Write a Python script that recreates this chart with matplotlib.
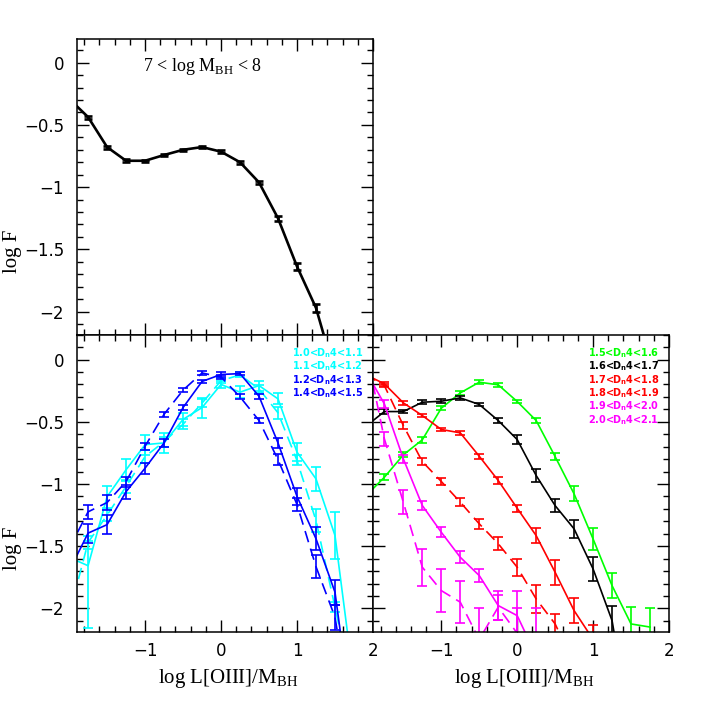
import numpy as np
import matplotlib
matplotlib.use("Agg")
import matplotlib.pyplot as plt
from matplotlib.ticker import MultipleLocator, FuncFormatter

# ---------------- data ----------------
x = [-2.0, -1.75, -1.5, -1.25, -1.0, -0.75, -0.5, -0.25, 0.0, 0.25,
     0.5, 0.75, 1.0, 1.25, 1.5, 1.75]

# top panel: 7 < log M_BH < 8
top_y = [-0.29, -0.437, -0.678, -0.788, -0.788, -0.742, -0.70, -0.678, -0.715,
         -0.80, -0.962, -1.25, -1.637, -1.97, -2.5, -3.0]
top_err = [0, 0.012, 0.012, 0.012, 0.01, 0.01, 0.01, 0.01, 0.01, 0.012,
           0.015, 0.02, 0.025, 0.035, 0.05, 0.08]

# bottom-left panel
c1_y = [-1.59, -1.657, -1.103, -0.886, -0.684, -0.670, -0.481, -0.386, -0.20,
        -0.262, -0.209, -0.316, -0.744, -0.959, -1.414, -2.6]
c1_lo = [0, 0.5, 0.09, 0.09, 0.08, 0.08, 0.055, 0.08, 0.03, 0.05, 0.04, 0.045,
         0.075, 0.095, 0.19, 0.4]
c1_hi = [0, 0.2, 0.09, 0.09, 0.08, 0.08, 0.055, 0.08, 0.03, 0.05, 0.04, 0.045,
         0.075, 0.095, 0.19, 0.3]

c2_y = [-2.05, -1.47, -1.25, -1.02, -0.78, -0.66, -0.52, -0.35, -0.17, -0.123,
        -0.236, -0.428, -0.811, -1.294, -1.99, -2.7]
c2_err = [0, 0.05, 0.05, 0.05, 0.05, 0.04, 0.04, 0.03, 0.02, 0.02, 0.03, 0.047,
          0.04, 0.09, 0.04, 0.2]

b1_y = [-1.70, -1.395, -1.327, -1.062, -0.873, -0.670, -0.386, -0.176, -0.12,
        -0.113, -0.295, -0.67, -1.10, -1.44, -1.87, -3.0]
b1_err = [0, 0.077, 0.075, 0.055, 0.045, 0.03, 0.02, 0.015, 0.02, 0.015, 0.02,
          0.04, 0.067, 0.094, 0.1, 0.1]

b2_y = [-1.52, -1.224, -1.149, -0.981, -0.697, -0.44, -0.246, -0.108, -0.14,
        -0.30, -0.49, -0.805, -1.165, -1.665, -2.07, -3.0]
b2_err = [0, 0.055, 0.06, 0.04, 0.03, 0.02, 0.015, 0.015, 0.015, 0.02, 0.02,
          0.045, 0.05, 0.094, 0.1, 0.1]

# bottom-right panel
g_y = [-1.10, -0.946, -0.766, -0.645, -0.391, -0.268, -0.182, -0.203, -0.337,
       -0.49, -0.78, -1.08, -1.442, -1.817, -2.125, -2.15]
g_err = [0, 0.025, 0.02, 0.025, 0.015, 0.015, 0.015, 0.015, 0.015, 0.02, 0.03,
         0.06, 0.085, 0.1, 0.14, 0.15]

k_y = [-0.54, -0.418, -0.418, -0.343, -0.335, -0.308, -0.361, -0.49, -0.643,
       -0.932, -1.174, -1.361, -1.683, -2.098, -3.0, -3.2]
k_err = [0, 0.02, 0.015, 0.015, 0.015, 0.015, 0.015, 0.02, 0.035, 0.05, 0.05,
         0.07, 0.1, 0.12, 0.15, 0.15]

r1_y = [-0.12, -0.195, -0.348, -0.45, -0.562, -0.589, -0.777, -0.972, -1.195,
        -1.415, -1.71, -2.018, -2.25, -2.8, -3.2, -3.5]
r1_err = [0, 0.015, 0.015, 0.015, 0.015, 0.015, 0.02, 0.025, 0.03, 0.06, 0.1,
          0.1, 0.12, 0.15, 0.2, 0.2]

r2_y = [-0.12, -0.209, -0.53, -0.82, -0.98, -1.146, -1.32, -1.48, -1.669,
        -1.924, -2.125, -2.45, -2.8, -3.2, -3.5, -3.8]
r2_err = [0, 0.015, 0.025, 0.025, 0.03, 0.035, 0.04, 0.05, 0.067, 0.11, 0.08,
          0.12, 0.15, 0.2, 0.2, 0.2]

m1_y = [-0.09, -0.356, -0.798, -1.173, -1.388, -1.589, -1.736, -1.977, -2.058,
        -2.38, -2.8, -3.2, -3.5, -3.8, -4.0, -4.2]
m1_err = [0, 0.03, 0.03, 0.035, 0.04, 0.05, 0.05, 0.12, 0.2, 0.15, 0.2, 0.2,
          0.2, 0.2, 0.2, 0.2]

m2_y = [0.10, -0.637, -1.147, -1.669, -1.857, -1.95, -2.25, -1.99, -2.2,
        -2.25, -2.8, -3.2, -3.5, -3.8, -4.0, -4.2]
m2_err = [0, 0.055, 0.095, 0.15, 0.17, 0.17, 0.25, 0.1, 0.2, 0.25, 0.2, 0.2,
          0.2, 0.2, 0.2, 0.2]

left_labels = ["1.0<D$_\\mathregular{n}$4<1.1", "1.1<D$_\\mathregular{n}$4<1.2",
               "1.2<D$_\\mathregular{n}$4<1.3", "1.4<D$_\\mathregular{n}$4<1.5"]
left_colors = ["#00FFFF", "#00FFFF", "#0000FF", "#0000FF"]
right_labels = ["1.5<D$_\\mathregular{n}$4<1.6", "1.6<D$_\\mathregular{n}$4<1.7",
                "1.7<D$_\\mathregular{n}$4<1.8", "1.8<D$_\\mathregular{n}$4<1.9",
                "1.9<D$_\\mathregular{n}$4<2.0", "2.0<D$_\\mathregular{n}$4<2.1"]
right_colors = ["#00FF00", "#000000", "#FF0000", "#FF0000", "#FF00FF", "#FF00FF"]

top_text = "7 < log M$_\\mathregular{BH}$ < 8"
xlabel = "log L[OIII]/M$_\\mathregular{BH}$"
ylabel = "log F"

# ---------------- figure ----------------
fig = plt.figure(figsize=(7.08, 7.08), dpi=100)
L, M, R = 0.1083, 0.5268, 0.9449
B, Mid, T = 0.1073, 0.5273, 0.9449
ax_t = fig.add_axes([L, Mid, M - L, T - Mid])
ax_l = fig.add_axes([L, B, M - L, Mid - B])
ax_r = fig.add_axes([M, B, R - M, Mid - B])

tickfont = "DejaVu Sans"
fmt = FuncFormatter(lambda v, p: ("%g" % v).replace("-", "\u2212"))

for ax in (ax_t, ax_l, ax_r):
    ax.set_xlim(-1.9, 2.0)
    ax.xaxis.set_major_locator(MultipleLocator(1.0))
    ax.xaxis.set_minor_locator(MultipleLocator(0.2))
    ax.yaxis.set_major_locator(MultipleLocator(0.5))
    ax.yaxis.set_minor_locator(MultipleLocator(0.1))
    ax.tick_params(which="both", direction="in", top=True, right=True,
                   width=1.0, labelsize=12)
    ax.tick_params(which="major", length=8.5)
    ax.tick_params(which="minor", length=4)
    ax.tick_params(axis="x", pad=7)
    ax.tick_params(axis="y", pad=9)
    for s in ax.spines.values():
        s.set_linewidth(1.1)
    ax.xaxis.set_major_formatter(fmt)
    ax.yaxis.set_major_formatter(fmt)
    for lab in ax.get_xticklabels() + ax.get_yticklabels():
        lab.set_fontfamily(tickfont)

ax_t.set_ylim(-2.185, 0.19)
ax_l.set_ylim(-2.19, 0.2)
ax_r.set_ylim(-2.19, 0.2)
ax_t.tick_params(axis="x", labelbottom=False)
ax_r.tick_params(axis="y", labelleft=False)

dash = (0, (7, 4))

def draw(ax, y, err, color, lw, ls="-", cap=3.5, lo=None, hi=None):
    if lo is not None:
        yerr = [lo, hi]
    else:
        yerr = err
    ax.errorbar(x, y, yerr=yerr, fmt="none", ecolor=color, elinewidth=lw,
                capsize=cap, capthick=lw, clip_on=True)
    ax.plot(x, y, color=color, lw=lw, linestyle=ls, clip_on=True)

# top
draw(ax_t, top_y, top_err, "black", 1.9, cap=3)
ax_t.text(0.426, 0.906, top_text, transform=ax_t.transAxes, ha="center",
          va="center", fontsize=13, family="Liberation Serif")

# bottom left
lw = 1.2
draw(ax_l, c1_y, None, "#00FFFF", lw, lo=c1_lo, hi=c1_hi)
draw(ax_l, c2_y, c2_err, "#00FFFF", lw, ls=dash)
draw(ax_l, b1_y, b1_err, "#0000FF", lw)
draw(ax_l, b2_y, b2_err, "#0000FF", lw, ls=dash)

# bottom right
draw(ax_r, g_y, g_err, "#00FF00", lw)
draw(ax_r, k_y, k_err, "#000000", lw)
draw(ax_r, r1_y, r1_err, "#FF0000", lw)
draw(ax_r, r2_y, r2_err, "#FF0000", lw, ls=dash)
draw(ax_r, m1_y, m1_err, "#FF00FF", lw)
draw(ax_r, m2_y, m2_err, "#FF00FF", lw, ls=dash)

for i, (t, c) in enumerate(zip(left_labels, left_colors)):
    ax_l.text(0.727, 0.938 - i * 0.0448, t, color=c, transform=ax_l.transAxes,
              ha="left", va="center", fontsize=7, fontweight="bold",
              family="DejaVu Sans")
for i, (t, c) in enumerate(zip(right_labels, right_colors)):
    ax_r.text(0.727, 0.938 - i * 0.0448, t, color=c, transform=ax_r.transAxes,
              ha="left", va="center", fontsize=7, fontweight="bold",
              family="DejaVu Sans")

# axis labels
lab_kw = dict(fontsize=15, family="Liberation Serif")
fig.text(228 / 708, 1 - 679 / 708, xlabel, ha="center", va="center", **lab_kw)
fig.text(524 / 708, 1 - 679 / 708, xlabel, ha="center", va="center", **lab_kw)
fig.text(12 / 708, 1 - 251 / 708, ylabel, ha="center", va="center",
         rotation=90, **lab_kw)
fig.text(12 / 708, 1 - 548 / 708, ylabel, ha="center", va="center",
         rotation=90, **lab_kw)

fig.savefig("out.png", dpi=100)
